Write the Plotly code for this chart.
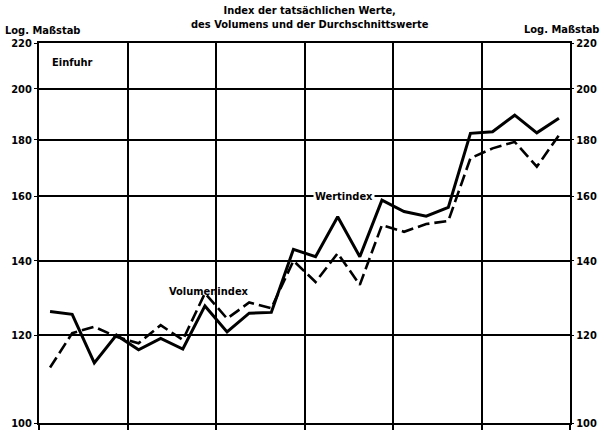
import numpy as np
import plotly.graph_objects as go

# 24 quarters over 6 years
quarters = [f"{y}. Jahr Q{q}" for y in range(1, 7) for q in range(1, 5)]
wertindex = [126, 125.3, 113.3, 120.0, 116.4, 119.2, 116.6, 127.5, 120.8, 125.6, 125.8, 143.4,
             141.2, 153.4, 141.2, 158.8, 155.1, 153.6, 156.4, 182.4, 183.0, 189.4, 182.6, 188.2]
volumenindex = [112.2, 120.5, 122.1, 119.6, 118.0, 122.5, 118.8, 130.9, 124.2, 128.4, 126.9, 140.0,
                134.0, 142.2, 133.2, 150.8, 148.7, 151.1, 152.1, 173.2, 176.8, 179.2, 170.2, 181.7]
y_ticks = [100, 120, 140, 160, 180, 200, 220]

x = np.arange(len(quarters)) + 0.5
FONT = "DejaVu Sans Condensed, Liberation Sans Narrow, Roboto Condensed, Liberation Sans, sans-serif"

fig = go.Figure()
fig.add_trace(go.Scatter(x=x, y=volumenindex, mode="lines", name="Volumenindex",
                         line=dict(color="black", width=2.6, dash="12px,5px")))
fig.add_trace(go.Scatter(x=x, y=wertindex, mode="lines", name="Wertindex",
                         line=dict(color="black", width=3)))
fig.add_trace(go.Scatter(x=[x[0]], y=[y_ticks[0]], yaxis="y2", mode="markers",
                         marker=dict(opacity=0), showlegend=False, hoverinfo="skip"))

yr = [np.log10(y_ticks[0]), np.log10(y_ticks[-1])]
axis_font = dict(family=FONT, size=11, color="black", weight="bold")

fig.update_layout(
    width=604, height=432,
    margin=dict(l=39, r=34, t=43, b=9),
    paper_bgcolor="white", plot_bgcolor="white",
    showlegend=False,
    xaxis=dict(range=[0, len(quarters)], tickmode="linear", tick0=0, dtick=4, automargin=False,
               showgrid=True, gridcolor="black", gridwidth=2,
               showticklabels=False, ticks="outside", ticklen=5, tickcolor="black", tickwidth=2,
               showline=True, linecolor="black", linewidth=2, mirror=True, zeroline=False),
    yaxis=dict(type="log", range=yr, tickvals=y_ticks, ticktext=[str(v) for v in y_ticks],
               automargin=False,
               showgrid=True, gridcolor="black", gridwidth=1.5,
               ticks="outside", ticklen=3, tickcolor="black",
               showline=True, linecolor="black", linewidth=2, mirror=True,
               tickfont=axis_font, zeroline=False),
    yaxis2=dict(type="log", range=yr, tickvals=y_ticks, ticktext=[str(v) for v in y_ticks],
                automargin=False,
                overlaying="y", side="right", showgrid=False,
                ticks="outside", ticklen=3, tickcolor="black",
                tickfont=axis_font, zeroline=False, showline=False),
    font=dict(family=FONT, color="black"),
)

ann = dict(showarrow=False, font=dict(family=FONT, size=11, color="black", weight="bold"))
fig.add_annotation(text="Index der tatsächlichen Werte,<br>des Volumens und der Durchschnittswerte",
                   xref="paper", yref="paper", x=0.51, y=1.0, yshift=41, xanchor="center",
                   yanchor="top", **ann)
fig.add_annotation(text="Log. Maßstab", xref="paper", yref="paper", x=-0.066, y=1.0, yshift=13,
                   xanchor="left", yanchor="middle", borderpad=0, **ann)
fig.add_annotation(text="Log. Maßstab", xref="paper", yref="paper", x=1.0565, y=1.0, yshift=14,
                   xanchor="right", yanchor="middle", borderpad=0, **ann)
fig.add_annotation(text="Einfuhr", xref="paper", yref="paper", x=0.02, y=0.95,
                   xanchor="left", yanchor="middle", **ann)
fig.add_annotation(text="Volumenindex", xref="x", yref="y", x=7.7, y=np.log10(131.5),
                   xanchor="center", yanchor="middle", **ann)
fig.add_annotation(text="Wertindex", xref="x", yref="y", x=13.8, y=np.log10(160),
                   xanchor="center", yanchor="middle", bgcolor="white", **ann)

fig.write_html("out.html", config={"displayModeBar": False},
               post_script="document.body.style.margin='0';document.body.style.overflow='hidden';")
